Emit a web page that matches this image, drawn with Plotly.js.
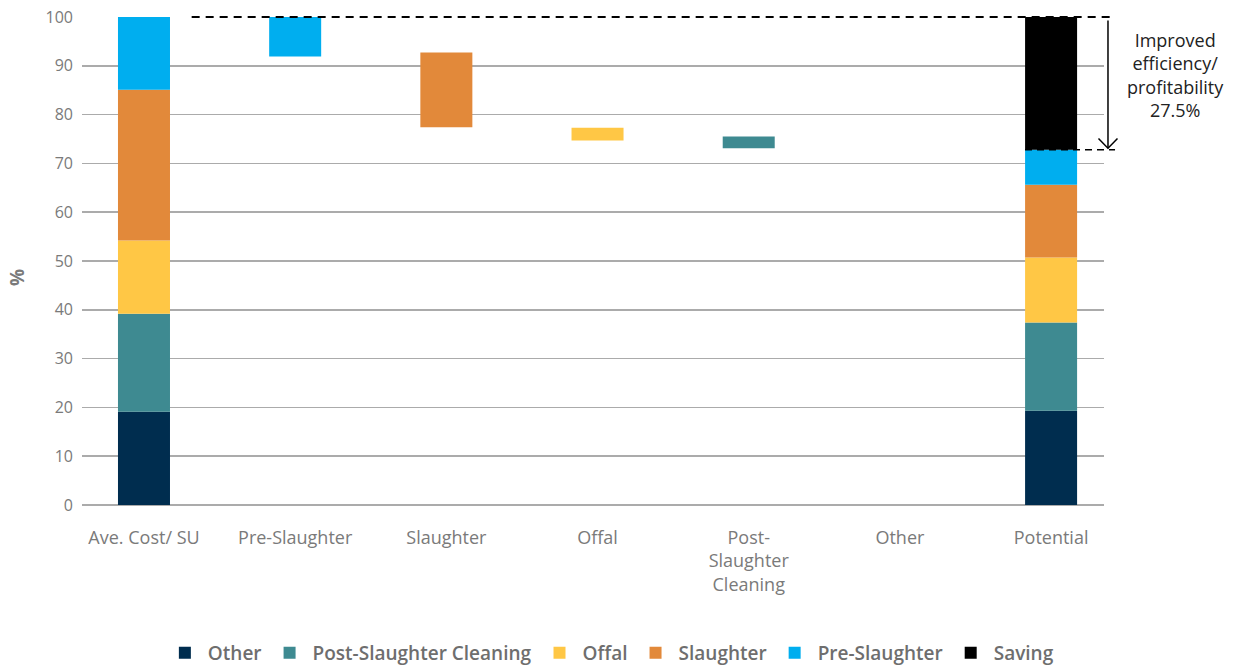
<!DOCTYPE html>
<html>
<head>
<meta charset="utf-8">
<script src="https://cdn.plot.ly/plotly-3.0.1.min.js"></script>
<style>html,body{margin:0;padding:0;background:#fff;}#chart{width:1237px;height:667px;}</style>
</head>
<body>
<div id="chart"></div>
<script>
// Categories on the x axis
const categories = ["Ave. Cost/ SU", "Pre-Slaughter", "Slaughter", "Offal", "Post-<br>Slaughter<br>Cleaning", "Other", "Potential"];
// Component names, in stacking order (bottom to top)
const components = ["Other", "Post-Slaughter Cleaning", "Offal", "Slaughter", "Pre-Slaughter"];
const colors = ["#002D4F", "#3E8A91", "#FFC745", "#E2893A", "#00AEEF"];
const savingColor = "#000000";
// Average cost per SU: component shares (%)
const aveCost = [19.1, 20.1, 15.0, 30.9, 14.9];
// Potential cost: component shares (%) and saving
const potential = [19.3, 18.1, 13.3, 14.9, 7.2];
const saving = 27.2;
// Waterfall steps: top of each floating bar and its drop (%)
// order matches components: Other, Post-Slaughter Cleaning, Offal, Slaughter, Pre-Slaughter
const stepTop = [73.1, 75.5, 77.3, 92.7, 100];
const stepDrop = [0, 2.4, 2.6, 15.3, 8.1];
// Index on the x axis of each component's step bar
const stepCat = [5, 4, 3, 2, 1];
const savingLabel = "Improved<br>efficiency/<br>profitability<br>27.5%";

const traces = [];
let aveBase = 0, potBase = 0;
components.forEach((name, i) => {
  const xs = [categories[0], categories[stepCat[i]], categories[6]];
  const ys = [aveCost[i], stepDrop[i], potential[i]];
  const bases = [aveBase, stepTop[i] - stepDrop[i], potBase];
  aveBase += aveCost[i];
  potBase += potential[i];
  traces.push({
    type: "bar", name: name, x: xs, y: ys, base: bases,
    marker: {color: colors[i], line: {width: 0}},
    width: 0.344, hoverinfo: "skip"
  });
});
traces.push({
  type: "bar", name: "Saving", x: [categories[6]], y: [saving], base: [potBase],
  marker: {color: savingColor, line: {width: 0}}, width: 0.344, hoverinfo: "skip"
});
const potTop = potBase;
// y (0..1 paper) of the potential top, for paper-referenced decorations
const potTopPaper = potTop / 100;

const layout = {
  width: 1237, height: 667,
  margin: {l: 82, r: 133, t: 17, b: 162, pad: 0, autoexpand: false},
  paper_bgcolor: "#fff", plot_bgcolor: "#fff",
  barmode: "overlay",
  font: {family: "Open Sans, sans-serif", color: "#7a7a7a"},
  xaxis: {
    type: "category", categoryorder: "array", categoryarray: categories,
    range: [-0.41, 6.35], showgrid: false, zeroline: false, showline: false,
    automargin: false,
    ticks: "", tickfont: {size: 18, color: "#7a7a7a"}, ticklabelstandoff: 20
  },
  yaxis: {
    range: [0, 100], tickvals: [0,10,20,30,40,50,60,70,80,90,100],
    automargin: false,
    showgrid: true, gridcolor: "#ababab", gridwidth: 1.5,
    zeroline: true, zerolinecolor: "#ababab", zerolinewidth: 1.5,
    showline: false, ticks: "", tickfont: {size: 16, color: "#7a7a7a"},
    ticklabelstandoff: 8
  },
  showlegend: true,
  legend: {
    orientation: "h", x: 0.517, xanchor: "center", y: -0.303, yanchor: "middle",
    traceorder: "normal", font: {size: 19, color: "#6e6e6e", weight: 600},
    itemsizing: "constant", itemwidth: 36
  },
  shapes: [
    {type: "line", xref: "paper", yref: "paper", x0: 0.1073, x1: 1.0108, y0: 1, y1: 1,
     line: {color: "#000", width: 2, dash: "8px,6px"}, layer: "above"},
    {type: "line", xref: "paper", yref: "paper", x0: 0.9227, x1: 1.0108, y0: potTopPaper, y1: potTopPaper,
     line: {color: "#000", width: 1.5, dash: "7px,5px"}, layer: "above"},
    {type: "line", xref: "paper", yref: "paper", x0: 1.0039, x1: 1.0039, y0: 0.993, y1: potTopPaper + 0.003,
     line: {color: "#000", width: 1.5}, layer: "above"},
    {type: "path", xref: "paper", yref: "paper",
     path: `M 0.9946 ${potTopPaper + 0.023} L 1.0039 ${potTopPaper + 0.003} L 1.0132 ${potTopPaper + 0.023}`,
     line: {color: "#000", width: 1.5}, layer: "above"}
  ],
  annotations: [
    {xref: "paper", yref: "y", x: 1.0695, y: 88.2, xanchor: "center", yanchor: "middle",
     text: savingLabel, showarrow: false, align: "center",
     font: {size: 18, color: "#222", family: "Open Sans, sans-serif"}},
    {xref: "paper", yref: "paper", x: -0.0636, y: 0.465, xanchor: "center", yanchor: "middle",
     text: "%", textangle: -90, showarrow: false,
     font: {size: 19, color: "#7a7a7a", weight: 700}}
  ]
};

Plotly.newPlot("chart", traces, layout, {displayModeBar: false, staticPlot: true});
</script>
</body>
</html>
